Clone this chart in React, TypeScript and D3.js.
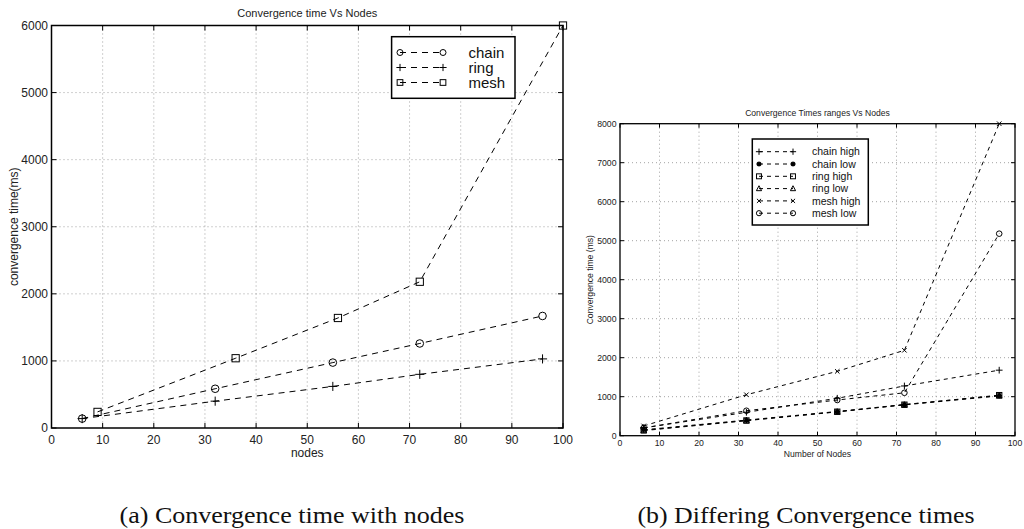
import React from 'react';
import * as d3 from 'd3';

// ---------- data ----------
const xTicks = [0, 10, 20, 30, 40, 50, 60, 70, 80, 90, 100];
const yTicksA = [0, 1000, 2000, 3000, 4000, 5000, 6000];
const yTicksB = [0, 1000, 2000, 3000, 4000, 5000, 6000, 7000, 8000];

// (a) Convergence time Vs Nodes
const chainNodesA = [6, 32, 55, 72, 96];
const chainTimeA = [140, 585, 975, 1260, 1670];
const ringNodesA = [6, 32, 55, 72, 96];
const ringTimeA = [140, 400, 620, 800, 1030];
const meshNodesA = [9, 36, 56, 72, 100];
const meshTimeA = [240, 1040, 1640, 2180, 6000];

// (b) Convergence Times ranges Vs Nodes
const nodesB = [6, 32, 55, 72, 96];
const chainHighB = [200, 600, 960, 1275, 1680];
const chainLowB = [150, 400, 620, 800, 1030];
const ringHighB = [140, 390, 615, 795, 1040];
const ringLowB = [130, 385, 610, 790, 1020];
const meshHighB = [250, 1050, 1650, 2190, 8000];
const meshLowB = [200, 640, 915, 1100, 5180];

const seriesA = [
  { name: 'chain', marker: 'o', xs: chainNodesA, ys: chainTimeA },
  { name: 'ring', marker: '+', xs: ringNodesA, ys: ringTimeA },
  { name: 'mesh', marker: 's', xs: meshNodesA, ys: meshTimeA },
];
const seriesB = [
  { name: 'chain high', marker: '+', xs: nodesB, ys: chainHighB },
  { name: 'chain low', marker: '*', xs: nodesB, ys: chainLowB },
  { name: 'ring high', marker: 's', xs: nodesB, ys: ringHighB },
  { name: 'ring low', marker: '^', xs: nodesB, ys: ringLowB },
  { name: 'mesh high', marker: 'x', xs: nodesB, ys: meshHighB },
  { name: 'mesh low', marker: 'o', xs: nodesB, ys: meshLowB },
];

const SANS = 'Liberation Sans, Arial, Helvetica, sans-serif';

function Marker({ type, x, y, s, sw }: { type: string; x: number; y: number; s: number; sw: number }) {
  const common = { stroke: 'black', strokeWidth: sw, fill: 'none' };
  switch (type) {
    case 'o':
      return <circle cx={x} cy={y} r={s} {...common} />;
    case '+':
      return <path d={`M${x - s * 1.2},${y}H${x + s * 1.2}M${x},${y - s * 1.2}V${y + s * 1.2}`} {...common} />;
    case 's':
      return <rect x={x - s * 0.95} y={y - s * 0.95} width={1.9 * s} height={1.9 * s} {...common} />;
    case '^':
      return <path d={`M${x},${y - s * 1.1}L${x + s},${y + s * 0.8}L${x - s},${y + s * 0.8}Z`} {...common} />;
    case 'x':
      return <path d={`M${x - s * 0.8},${y - s * 0.8}L${x + s * 0.8},${y + s * 0.8}M${x - s * 0.8},${y + s * 0.8}L${x + s * 0.8},${y - s * 0.8}`} {...common} />;
    case '*':
      return (
        <g>
          <path d={`M${x - s},${y}H${x + s}M${x},${y - s}V${y + s}M${x - s * 0.7},${y - s * 0.7}L${x + s * 0.7},${y + s * 0.7}M${x - s * 0.7},${y + s * 0.7}L${x + s * 0.7},${y - s * 0.7}`} {...common} strokeWidth={sw * 1.3} />
          <circle cx={x} cy={y} r={s * 0.5} fill="black" />
        </g>
      );
    default:
      return null;
  }
}

type ChartCfg = {
  left: number; right: number; top: number; bottom: number;
  yMax: number; yTicks: number[];
  series: { name: string; marker: string; xs: number[]; ys: number[] }[];
  title: string; titleSize: number; titleY: number;
  tickSize: number; xTickY: number; yTickX: number;
  xLabel: string; xLabelY: number; labelSize: number;
  yLabel: string; yLabelX: number;
  dash: string; markerSize: number; tickLen: number; frameW: number;
  legend: { x0: number; y0: number; x1: number; y1: number; rowY: number; step: number; mL: number; mR: number; tx: number; fs: number; ms: number };
};

function Chart({ c }: { c: ChartCfg }) {
  const x = d3.scaleLinear().domain([0, 100]).range([c.left, c.right]);
  const y = d3.scaleLinear().domain([0, c.yMax]).range([c.bottom, c.top]);
  const line = d3.line<[number, number]>().x(d => x(d[0])).y(d => y(d[1]));
  const lg = c.legend;
  return (
    <g>
      {xTicks.slice(1, -1).map(t => (
        <line key={'gx' + t} x1={x(t)} x2={x(t)} y1={c.top} y2={c.bottom} stroke="#8a8a8a" strokeWidth={0.8} strokeDasharray="1,3" />
      ))}
      {c.yTicks.slice(1, -1).map(t => (
        <line key={'gy' + t} x1={c.left} x2={c.right} y1={y(t)} y2={y(t)} stroke="#8a8a8a" strokeWidth={0.8} strokeDasharray="1,3" />
      ))}
      {xTicks.map(t => (
        <g key={'tx' + t}>
          <line x1={x(t)} x2={x(t)} y1={c.bottom} y2={c.bottom - c.tickLen} stroke="black" strokeWidth={1} />
          <line x1={x(t)} x2={x(t)} y1={c.top} y2={c.top + c.tickLen} stroke="black" strokeWidth={1} />
          <text x={x(t)} y={c.xTickY} fontSize={c.tickSize} fontFamily={SANS} textAnchor="middle" fill="#222">{t}</text>
        </g>
      ))}
      {c.yTicks.map(t => (
        <g key={'ty' + t}>
          <line x1={c.left} x2={c.left + c.tickLen} y1={y(t)} y2={y(t)} stroke="black" strokeWidth={1} />
          <line x1={c.right} x2={c.right - c.tickLen} y1={y(t)} y2={y(t)} stroke="black" strokeWidth={1} />
          <text x={c.yTickX} y={y(t) + c.tickSize * 0.35} fontSize={c.tickSize} fontFamily={SANS} textAnchor="end" fill="#222">{t}</text>
        </g>
      ))}
      <rect x={c.left} y={c.top} width={c.right - c.left} height={c.bottom - c.top} fill="none" stroke="black" strokeWidth={c.frameW} />
      {c.series.map(s => {
        const pts = s.xs.map((v, i) => [v, s.ys[i]] as [number, number]);
        return (
          <g key={s.name}>
            <path d={line(pts) || ''} fill="none" stroke="black" strokeWidth={1} strokeDasharray={c.dash} />
            {pts.map((p, i) => (
              <Marker key={i} type={s.marker} x={x(p[0])} y={y(p[1])} s={c.markerSize} sw={1} />
            ))}
          </g>
        );
      })}
      <text x={(c.left + c.right) / 2} y={c.titleY} fontSize={c.titleSize} fontFamily={SANS} textAnchor="middle" fill="#222">{c.title}</text>
      <text x={(c.left + c.right) / 2} y={c.xLabelY} fontSize={c.labelSize} fontFamily={SANS} textAnchor="middle" fill="#222">{c.xLabel}</text>
      <text transform={`translate(${c.yLabelX},${(c.top + c.bottom) / 2}) rotate(-90)`} fontSize={c.labelSize} fontFamily={SANS} textAnchor="middle" fill="#222">{c.yLabel}</text>
      <rect x={lg.x0} y={lg.y0} width={lg.x1 - lg.x0} height={lg.y1 - lg.y0} fill="white" stroke="black" strokeWidth={1.5} />
      {c.series.map((s, i) => {
        const ry = lg.rowY + i * lg.step;
        return (
          <g key={'lg' + s.name}>
            <line x1={lg.mL} x2={lg.mR} y1={ry} y2={ry} stroke="black" strokeWidth={1} strokeDasharray={c.dash} />
            <Marker type={s.marker} x={lg.mL} y={ry} s={lg.ms} sw={1} />
            <Marker type={s.marker} x={lg.mR} y={ry} s={lg.ms} sw={1} />
            <text x={lg.tx} y={ry + lg.fs * 0.35} fontSize={lg.fs} fontFamily={SANS} fill="#111">{s.name}</text>
          </g>
        );
      })}
    </g>
  );
}

const cfgA: ChartCfg = {
  left: 51.5, right: 563, top: 25.5, bottom: 428,
  yMax: 6000, yTicks: yTicksA, series: seriesA,
  title: 'Convergence time Vs Nodes', titleSize: 11, titleY: 17,
  tickSize: 12, xTickY: 444, yTickX: 48,
  xLabel: 'nodes', xLabelY: 457, labelSize: 12,
  yLabel: 'convergence time(ms)', yLabelX: 18,
  dash: '6,5', markerSize: 3.8, tickLen: 5, frameW: 1.5,
  legend: { x0: 391.6, y0: 36.7, x1: 515, y1: 98.3, rowY: 52.5, step: 15, mL: 400, mR: 443, tx: 468.5, fs: 15, ms: 3 },
};

const cfgB: ChartCfg = {
  left: 620, right: 1015, top: 123.7, bottom: 435.7,
  yMax: 8000, yTicks: yTicksB, series: seriesB,
  title: 'Convergence Times ranges Vs Nodes', titleSize: 8.6, titleY: 116,
  tickSize: 8.7, xTickY: 446, yTickX: 616.5,
  xLabel: 'Number of Nodes', xLabelY: 457, labelSize: 8.6,
  yLabel: 'Convergence time (ms)', yLabelX: 593,
  dash: '4,4', markerSize: 2.8, tickLen: 4, frameW: 1.3,
  legend: { x0: 752.3, y0: 139, x1: 868.3, y1: 225, rowY: 151.7, step: 12.3, mL: 759, mR: 793, tx: 812, fs: 10.5, ms: 2.6 },
};

export default function App() {
  return (
    <svg width={1024} height={529} style={{ position: 'absolute', left: 0, top: 0, background: 'white' }}>
      <rect x={0} y={0} width={1024} height={529} fill="white" />
      <Chart c={cfgA} />
      <Chart c={cfgB} />
      <text x={292} y={523} fontSize={23.5} fontFamily="Liberation Serif, Times New Roman, serif" textAnchor="middle" textLength={345} lengthAdjust="spacingAndGlyphs" fill="#111">(a) Convergence time with nodes</text>
      <text x={806} y={523} fontSize={23.5} fontFamily="Liberation Serif, Times New Roman, serif" textAnchor="middle" textLength={337} lengthAdjust="spacingAndGlyphs" fill="#111">(b) Differing Convergence times</text>
    </svg>
  );
}
